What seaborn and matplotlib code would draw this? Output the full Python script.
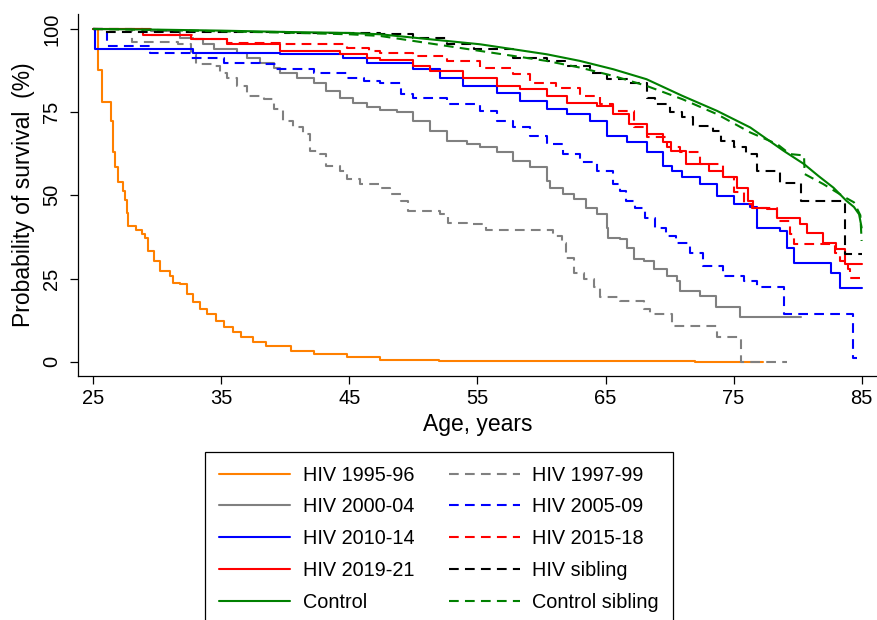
import matplotlib
matplotlib.use("Agg")
import matplotlib.pyplot as plt
import seaborn as sns
from matplotlib.lines import Line2D

sns.set_theme(style="white")
plt.rcParams['font.family'] = ['Liberation Sans', 'DejaVu Sans']
plt.rcParams['lines.scale_dashes'] = False

# ---------------- data (age in years, survival in %) ----------------
hiv9596_age = [25, 25.4, 25.65, 26.4, 26.55, 26.7, 26.95, 27.35, 27.5, 27.6, 27.7, 28.3, 28.8, 29.0, 29.3,
               29.7, 30.2, 31.0, 31.25, 31.8, 32.3, 32.8, 33.3, 33.9, 34.6, 35.2, 35.9, 36.5, 37.5, 38.5,
               40.4, 42.2, 44.8, 47.4, 52, 58, 65, 72, 77.3]
hiv9596_val = [100, 87.7, 78, 72.4, 63, 58.6, 54.1, 51.3, 48.6, 44.6, 40.8, 39.5, 38.5, 37.3, 33.3,
               30.3, 27.3, 25.8, 23.8, 23.3, 20.3, 17.8, 15.8, 14.3, 12.3, 10.3, 8.8, 7.3, 5.8, 4.6,
               3.3, 2.3, 1.3, 0.6, 0.3, 0.2, 0.1, 0.05, 0.05]

hiv9799_age = [25, 28.0, 31.6, 32.6, 33.0, 34.4, 34.9, 35.4, 36.2, 37.0, 38.3, 39.1, 39.8, 40.6, 41.4,
               41.9, 42.7, 43.2, 44.3, 44.8, 45.8, 47.4, 48.2, 49.0, 49.6, 52.1, 52.7, 54.2, 55.7, 60.9,
               61.6, 61.9, 62.5, 63.3, 64.1, 64.6, 66.1, 68.0, 68.5, 70.2, 73.7, 75.6, 79.2]
hiv9799_val = [100, 96.2, 95.4, 92.5, 89.4, 88.9, 86.9, 85.4, 82.9, 79.9, 78.9, 75.9, 72.4, 70.4, 68.4,
               63.4, 62.4, 58.9, 57.4, 54.9, 53.4, 52.3, 50.3, 48.3, 45.3, 44.3, 41.8, 41.3, 39.5, 37.8,
               35.8, 31.3, 26.8, 24.8, 22.3, 19.5, 18.3, 15.8, 14.3, 10.6, 7.3, 0, 0]

hiv0004_age = [25, 29.5, 31.8, 32.8, 33.6, 34.4, 36.2, 37.0, 38.0, 39.1, 39.6, 40.9, 42.2, 43.2, 44.3,
               45.3, 46.4, 47.4, 48.7, 50.0, 51.3, 52.6, 54.2, 55.2, 56.5, 57.8, 59.1, 60.4, 60.7, 61.7,
               62.5, 63.5, 64.3, 65.1, 65.2, 66.1, 66.7, 67.2, 68.0, 68.8, 69.8, 70.6, 70.8, 72.4, 73.6,
               75.5, 80.3]
hiv0004_val = [100, 99.3, 97.4, 96.9, 95.4, 93.9, 92.9, 91.4, 89.9, 88.4, 86.9, 85.4, 83.9, 81.4, 79.4,
               77.9, 76.4, 75.7, 74.9, 72.4, 69.4, 66.4, 65.4, 64.4, 62.9, 60.4, 58.4, 54.4, 52.3, 50.3,
               48.8, 46.3, 44.3, 40.3, 37.3, 36.8, 34.3, 30.8, 30.3, 27.8, 25.8, 24.3, 21.3, 19.8, 16.3,
               13.3, 13.3]

hiv0509_age = [25, 26.1, 29.4, 32.6, 35.2, 38.0, 39.3, 42.2, 44.8, 46.1, 47.4, 49.0, 50.0, 52.6, 55.2,
               56.5, 57.8, 59.1, 60.4, 61.7, 63.0, 64.3, 65.6, 66.1, 66.6, 67.3, 68.1, 68.9, 69.7, 70.5,
               71.6, 72.6, 74.2, 75.8, 76.8, 78.9, 84.3, 84.6]
hiv0509_val = [100, 94.9, 92.9, 91.4, 89.9, 89.4, 87.9, 86.9, 85.4, 84.4, 83.9, 80.4, 79.4, 77.4, 75.4,
               72.4, 70.4, 67.9, 65.4, 62.4, 59.9, 57.4, 53.4, 51.4, 48.4, 46.3, 43.3, 40.3, 37.8, 35.6,
               32.8, 28.8, 25.8, 24.3, 22.5, 14.3, 1.0, 1.0]

hiv1014_age = [25, 25.1, 32.8, 39.6, 44.5, 46.4, 50.0, 52.1, 53.9, 56.5, 58.3, 60.4, 62.0, 63.8, 65.1,
               66.7, 68.2, 69.5, 70.2, 71.0, 72.4, 73.7, 75.0, 76.3, 76.8, 78.6, 79.2, 79.7, 82.6, 83.3, 85.0]
hiv1014_val = [100, 93.9, 92.9, 92.4, 91.4, 89.9, 87.9, 85.4, 82.9, 80.9, 78.4, 75.9, 74.4, 72.4, 67.9,
               65.9, 62.9, 58.9, 57.4, 55.4, 53.4, 49.9, 47.4, 46.4, 40.3, 39.3, 34.3, 29.8, 26.8, 22.1, 22.1]

hiv1518_age = [25, 29.4, 32.8, 35.4, 39.6, 44.8, 46.5, 47.4, 50.0, 52.6, 55.2, 57.8, 59.1, 61.1, 63.0,
               64.6, 65.6, 67.2, 68.2, 69.8, 70.8, 72.4, 74.2, 75.0, 75.8, 76.4, 78.4, 79.4, 79.7, 82.9,
               83.3, 83.9, 84.1, 85.0]
hiv1518_val = [100, 98.3, 97.0, 95.9, 95.4, 94.4, 93.4, 92.9, 91.9, 90.4, 88.4, 86.4, 83.9, 82.4, 79.9,
               77.4, 75.4, 70.4, 67.4, 64.4, 62.9, 59.4, 55.4, 50.9, 47.4, 46.3, 42.3, 38.3, 35.3, 32.8,
               30.3, 27.8, 25.3, 25.3]

hiv1921_age = [25, 28.9, 32.6, 35.4, 39.6, 44.3, 46.4, 47.4, 50.0, 51.3, 53.9, 56.5, 58.3, 60.4, 62.0,
               64.3, 65.6, 66.8, 68.2, 69.5, 70.1, 71.3, 73.1, 74.2, 75.3, 76.1, 76.5, 77.6, 78.4, 80.2,
               80.7, 82.0, 83.0, 83.7, 85.0]
hiv1921_val = [100, 98.3, 96.9, 95.4, 93.4, 92.4, 91.4, 90.6, 88.9, 87.4, 85.4, 82.9, 81.9, 79.9, 77.9,
               76.9, 74.4, 71.4, 68.4, 65.9, 63.4, 59.4, 57.4, 55.4, 52.3, 48.4, 46.3, 45.8, 43.3, 41.3,
               38.8, 35.8, 33.8, 29.3, 29.3]

hivsib_age = [25, 25.8, 40, 47.4, 50.0, 52.6, 54.7, 57.8, 60.4, 62.0, 63.8, 65.1, 66.8, 68.2, 68.9,
              70.0, 71.0, 71.8, 73.4, 74.0, 75.0, 76.0, 76.8, 78.6, 80.3, 83.7, 85.0]
hivsib_val = [100, 99.0, 98.8, 98.4, 97.4, 95.4, 93.9, 91.4, 90.4, 88.9, 86.9, 84.9, 83.9, 79.4, 77.4,
              74.9, 73.4, 70.9, 69.4, 66.4, 64.4, 62.4, 57.4, 53.8, 48.4, 32.3, 32.3]

control_age = [25, 30, 35, 40, 45, 47.4, 50, 52.6, 55.2, 57.8, 60.4, 63, 65.6, 68.2, 71.0, 73.7, 76.3,
               78.9, 80.5, 81.6, 82.8, 83.8, 84.4, 84.8, 85.0]
control_val = [100, 99.8, 99.5, 99.1, 98.8, 98.4, 97.4, 96.4, 95.4, 93.9, 92.4, 90.4, 87.9, 84.9, 79.9,
               75.4, 70.4, 63.4, 59.4, 55.9, 52.3, 48.4, 46.5, 44.3, 40.3]

ctrlsib_age = [25, 30, 35, 40, 45, 47.4, 50, 52.6, 55.2, 57.8, 60.4, 63, 65.6, 68.2, 71.0, 73.7, 76.3,
               78.4, 79.4, 80.5, 80.55, 82.0, 83.7, 84.4, 84.9, 85.0]
ctrlsib_val = [100, 99.7, 99.3, 98.9, 98.4, 97.9, 96.4, 94.9, 93.4, 91.9, 90.4, 88.4, 85.9, 82.9, 78.9,
               74.4, 68.9, 65.4, 62.4, 62.0, 56.4, 53.4, 49.4, 47.9, 44.0, 36.3]

x_ticks = [25, 35, 45, 55, 65, 75, 85]
y_ticks = [0, 25, 50, 75, 100]

DASH = (0, (7, 4.5))
series = [
    ("HIV 1995-96", hiv9596_age, hiv9596_val, "#ff8000", "-", "steps-post"),
    ("HIV 1997-99", hiv9799_age, hiv9799_val, "#808080", DASH, "steps-post"),
    ("HIV 2000-04", hiv0004_age, hiv0004_val, "#808080", "-", "steps-post"),
    ("HIV 2005-09", hiv0509_age, hiv0509_val, "#0000ff", DASH, "steps-post"),
    ("HIV 2010-14", hiv1014_age, hiv1014_val, "#0000ff", "-", "steps-post"),
    ("HIV 2015-18", hiv1518_age, hiv1518_val, "#ff0000", DASH, "steps-post"),
    ("HIV 2019-21", hiv1921_age, hiv1921_val, "#ff0000", "-", "steps-post"),
    ("HIV sibling", hivsib_age, hivsib_val, "#000000", DASH, "steps-post"),
    ("Control", control_age, control_val, "#008000", "-", "default"),
    ("Control sibling", ctrlsib_age, ctrlsib_val, "#008000", DASH, "default"),
]

LW = 1.5
fig = plt.figure(figsize=(8.78, 6.2), dpi=100)
ax = fig.add_axes([78 / 878, 1 - 376 / 620, (877 - 78) / 878, (376 - 14) / 620])

handles = {}
for name, a, v, c, ls, ds in series:
    sns.lineplot(x=a, y=v, ax=ax, color=c, linestyle=ls, linewidth=LW, drawstyle=ds,
                 estimator=None, sort=False, legend=False)
    handles[name] = Line2D([0], [0], color=c, linestyle=ls, linewidth=LW)

ax.set_xlim(23.8, 86.2)
ax.set_ylim(-4.3, 104.5)
ax.set_xticks(x_ticks)
ax.set_xticklabels([str(t) for t in x_ticks])
ax.set_yticks(y_ticks)
ax.set_yticklabels([str(t) for t in y_ticks], rotation=90, va='center')

for side in ['top', 'right']:
    ax.spines[side].set_visible(False)
for side in ['left', 'bottom']:
    ax.spines[side].set_color('black')
    ax.spines[side].set_linewidth(0.9)

ax.tick_params(axis='both', which='major', direction='out', length=6, width=0.9,
               colors='black', labelsize=14.5, left=True, bottom=True)
ax.tick_params(axis='x', pad=3)
ax.tick_params(axis='y', pad=6)

ax.set_xlabel("Age, years", fontsize=16.5, labelpad=4, color='black')
ax.set_ylabel("Probability of survival  (%)", fontsize=16.5, labelpad=5, color='black')
ax.grid(False)

order = ["HIV 1995-96", "HIV 2000-04", "HIV 2010-14", "HIV 2019-21", "Control",
         "HIV 1997-99", "HIV 2005-09", "HIV 2015-18", "HIV sibling", "Control sibling"]
leg = fig.legend([handles[n] for n in order], order, ncol=2, loc='upper center',
                 bbox_to_anchor=(439 / 878, 1 - 451.7 / 620), frameon=True, fancybox=False,
                 edgecolor='black', framealpha=1, fontsize=14.3, handlelength=3.6,
                 handletextpad=0.62, columnspacing=1.73, borderpad=0.7, labelspacing=0.645,
                 borderaxespad=0)
leg.get_frame().set_linewidth(0.9)
for t in leg.get_texts():
    t.set_color('black')

fig.savefig("out.png", dpi=100, facecolor='white')
